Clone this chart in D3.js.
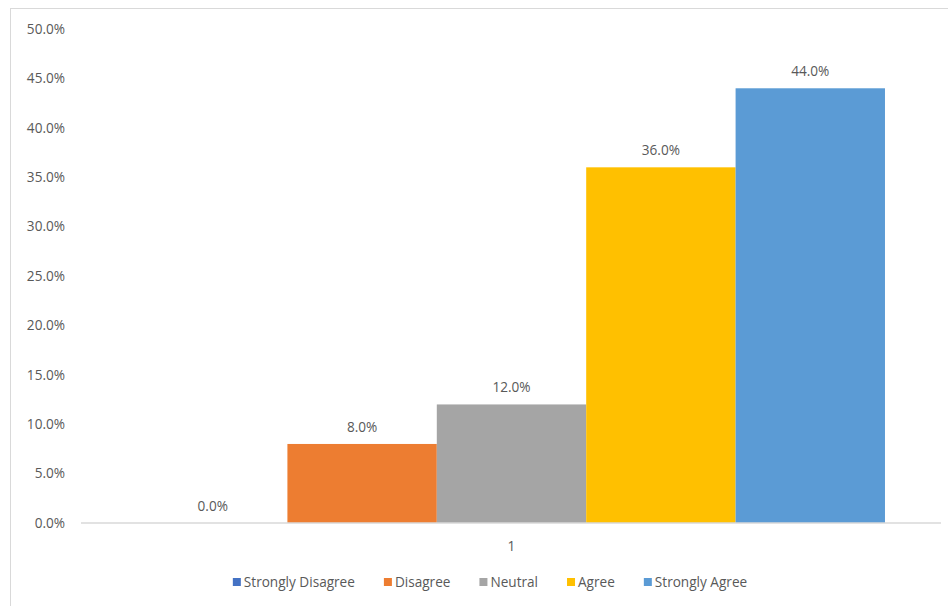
<!DOCTYPE html>
<html>
<head>
<meta charset="utf-8">
<script src="https://cdn.jsdelivr.net/npm/d3@7"></script>
<style>
  html, body { margin: 0; padding: 0; background: #fff; }
  svg { display: block; }
  text { font-family: "Open Sans", "DejaVu Sans", sans-serif; fill: #595959; }
</style>
</head>
<body>
<svg id="chart" width="948" height="606"></svg>
<script>
// Survey responses for a single item
const categories = ["1"];
const seriesNames = ["Strongly Disagree", "Disagree", "Neutral", "Agree", "Strongly Agree"];
const seriesValues = [0.0, 0.08, 0.12, 0.36, 0.44];
const seriesColors = ["#4472C4", "#ED7D31", "#A5A5A5", "#FFC000", "#5B9BD5"];
const yTicks = [0, 0.05, 0.10, 0.15, 0.20, 0.25, 0.30, 0.35, 0.40, 0.45, 0.50];

const W = 948, H = 606;
const margin = { left: 82, right: 7, top: 29, bottom: 83 };
const fontSize = "13.6px";
const svg = d3.select("#chart");

// Chart frame (only top and left edges fall inside the view)
svg.append("rect")
  .attr("x", 10.5).attr("y", 8.5)
  .attr("width", W).attr("height", H)
  .attr("fill", "none").attr("stroke", "#d9d9d9").attr("stroke-width", 1);

const x0 = d3.scaleBand()
  .domain(categories)
  .range([margin.left, W - margin.right])
  .paddingInner(0).paddingOuter(0.075);

const x1 = d3.scaleBand()
  .domain(seriesNames)
  .range([0, x0.bandwidth()]);

const y = d3.scaleLinear()
  .domain([0, 0.5])
  .range([H - margin.bottom, margin.top]);

const fmt = d3.format(".1%");

// Y axis labels (no axis line or gridlines)
const yAxis = d3.axisLeft(y).tickValues(yTicks).tickFormat(fmt).tickSize(0).tickPadding(17);
const gy = svg.append("g").attr("transform", `translate(${margin.left},0)`).call(yAxis);
gy.select(".domain").remove();
gy.selectAll("text")
  .style("font-family", '"Open Sans", sans-serif')
  .style("font-size", fontSize)
  .attr("fill", "#595959");

// Bars
const rows = seriesNames.map((name, i) => ({ name, value: seriesValues[i], color: seriesColors[i] }));
const group = svg.append("g").attr("transform", `translate(${x0(categories[0])},0)`);
group.selectAll("rect.bar")
  .data(rows)
  .join("rect")
  .attr("class", "bar")
  .attr("x", d => x1(d.name))
  .attr("width", x1.bandwidth())
  .attr("y", d => y(d.value))
  .attr("height", d => y(0) - y(d.value))
  .attr("fill", d => d.color);

// Value labels above each bar
group.selectAll("text.val")
  .data(rows)
  .join("text")
  .attr("class", "val")
  .attr("x", d => x1(d.name) + x1.bandwidth() / 2)
  .attr("y", d => y(d.value) - 12)
  .attr("text-anchor", "middle")
  .style("font-size", fontSize)
  .text(d => fmt(d.value));

// X axis baseline and category label
const xAxis = d3.axisBottom(x0).tickSize(0).tickPadding(18);
const gx = svg.append("g").attr("transform", `translate(0,${y(0)})`).call(xAxis);
gx.select(".domain").attr("stroke", "#d9d9d9").attr("stroke-width", 1.5)
  .attr("d", `M${margin.left - 1},0H${W - margin.right}`);
gx.selectAll("text")
  .style("font-family", '"Open Sans", sans-serif')
  .style("font-size", fontSize)
  .attr("fill", "#595959");

// Legend, laid out from measured text widths
const legend = svg.append("g").attr("class", "legend");
const items = legend.selectAll("g.item").data(rows).join("g").attr("class", "item");
items.append("rect")
  .attr("width", 8).attr("height", 8)
  .attr("y", -9)
  .attr("fill", d => d.color);
items.append("text")
  .attr("x", 11)
  .attr("y", 0)
  .style("font-size", fontSize)
  .text(d => d.name);

const itemGap = 29;
let cursor = 0;
items.each(function () {
  const g = d3.select(this);
  g.attr("transform", `translate(${cursor},0)`);
  const tw = g.select("text").node().getComputedTextLength();
  cursor += 11 + tw + itemGap;
});
const legendWidth = cursor - itemGap;
const legendCenter = 490;
legend.attr("transform", `translate(${legendCenter - legendWidth / 2},587)`);
</script>
</body>
</html>
